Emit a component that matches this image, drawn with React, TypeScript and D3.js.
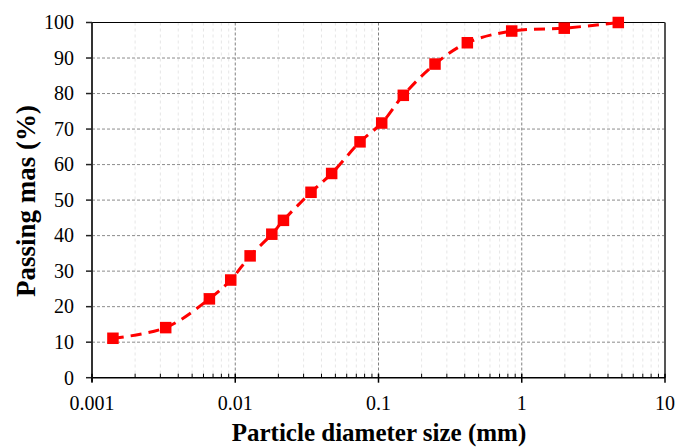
import React from "react";
import * as d3 from "d3";

const diameters = [0.0014, 0.00327, 0.0066, 0.0093, 0.0127, 0.018, 0.0217, 0.0338, 0.0471, 0.0743, 0.1053, 0.149, 0.248, 0.417, 0.851, 1.98, 4.72];
const passing = [11.1, 14.1, 22.2, 27.5, 34.3, 40.4, 44.3, 52.2, 57.5, 66.4, 71.7, 79.5, 88.3, 94.3, 97.6, 98.4, 100];
const xTickValues = [0.001, 0.01, 0.1, 1, 10];
const xTickLabels = ["0.001", "0.01", "0.1", "1", "10"];
const yTickValues = [0, 10, 20, 30, 40, 50, 60, 70, 80, 90, 100];

const W = 677, H = 447;
const L = 92, R = 665, T = 22.5, B = 377.7;

export default function App() {
  const x = d3.scaleLog().domain([0.001, 10]).range([L, R]);
  const y = d3.scaleLinear().domain([0, 100]).range([B, T]);
  const minor: number[] = [];
  for (let e = -3; e < 1; e++) {
    for (let k = 2; k <= 9; k++) minor.push(k * Math.pow(10, e));
  }
  const pts = diameters.map((d, i) => [x(d), y(passing[i])] as [number, number]);
  const line = d3.line().curve(d3.curveCatmullRom.alpha(0.5))(pts) || "";
  const font = "'Liberation Serif', 'Times New Roman', serif";
  const ms = 11.5;
  return (
    <svg width={W} height={H} style={{ position: "absolute", left: 0, top: 0, background: "#fff" }}>
      {minor.map((v, i) => (
        <line key={"mg" + i} x1={x(v)} x2={x(v)} y1={T} y2={B} stroke="#e0e0e0" strokeWidth={0.8} strokeDasharray="3,3" />
      ))}
      {xTickValues.slice(1, -1).map((v, i) => (
        <line key={"vg" + i} x1={x(v)} x2={x(v)} y1={T} y2={B} stroke="#808080" strokeWidth={1} strokeDasharray="3,2" />
      ))}
      {yTickValues.slice(1, -1).map((v, i) => (
        <line key={"hg" + i} x1={L} x2={R} y1={y(v)} y2={y(v)} stroke="#8c8c8c" strokeWidth={1} strokeDasharray="3,2" />
      ))}
      <line x1={L} x2={R} y1={T} y2={T} stroke="#000" strokeWidth={1} />
      <line x1={R} x2={R} y1={T} y2={B} stroke="#555" strokeWidth={2} />
      <line x1={L} x2={R} y1={B} y2={B} stroke="#000" strokeWidth={1.5} />
      <line x1={L} x2={L} y1={T} y2={B + 4} stroke="#333" strokeWidth={2} />
      {yTickValues.map((v, i) => (
        <g key={"yt" + i}>
          <line x1={L - 6} x2={L} y1={y(v)} y2={y(v)} stroke="#222" strokeWidth={1.5} />
          <text x={74} y={y(v)} dy="0.34em" textAnchor="end" fontFamily={font} fontSize={20} fill="#000">{v}</text>
        </g>
      ))}
      {minor.map((v, i) => (
        <line key={"xm" + i} x1={x(v)} x2={x(v)} y1={B - 4} y2={B} stroke="#000" strokeWidth={1} />
      ))}
      {xTickValues.map((v, i) => (
        <g key={"xt" + i}>
          <line x1={x(v)} x2={x(v)} y1={B - 4} y2={B + 5} stroke="#000" strokeWidth={1.5} />
          <text x={x(v)} y={410} textAnchor="middle" fontFamily={font} fontSize={20} fill="#000">{xTickLabels[i]}</text>
        </g>
      ))}
      <path d={line} fill="none" stroke="#ff0000" strokeWidth={3} strokeDasharray="11,7" />
      {pts.map((p, i) => (
        <rect key={"m" + i} x={p[0] - ms / 2} y={p[1] - ms / 2} width={ms} height={ms} fill="#ff0000" />
      ))}
      <text x={379} y={441} textAnchor="middle" fontFamily={font} fontSize={25} fontWeight="bold" fill="#000">Particle diameter size (mm)</text>
      <text transform="translate(35,201) rotate(-90)" textAnchor="middle" fontFamily={font} fontSize={27} fontWeight="bold" fill="#000">Passing mas (%)</text>
    </svg>
  );
}
